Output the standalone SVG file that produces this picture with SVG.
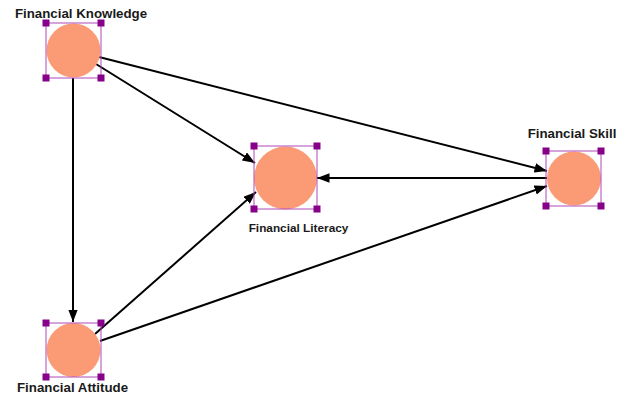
<svg xmlns="http://www.w3.org/2000/svg" width="625" height="398" viewBox="0 0 625 398">
<style>
.bg{fill:#ffffff}
.c{fill:#fb9b76}
.box{fill:none;stroke:#b048b8;stroke-width:1}
.h{fill:#86008a}
.lbl{font-family:"Liberation Sans",Arial,sans-serif;font-weight:bold;font-size:13.3px;fill:#1a1a1a}
.e{stroke:#000;stroke-width:2;fill:none;marker-end:url(#ah)}
</style>
<defs>
<marker id="ah" markerUnits="userSpaceOnUse" markerWidth="13" markerHeight="10" refX="12.5" refY="4.75" orient="auto">
<path d="M0,0 L12.5,4.75 L0,9.5 z" fill="#000"/>
</marker>
<g id="hd">
<rect class="h" x="-3.5" y="-3.5" width="7" height="7"/>
</g>
</defs>
<rect class="bg" x="0" y="0" width="625" height="398"/>
<g id="connectors">
<line class="e" x1="73" y1="78" x2="73" y2="322"/>
<line class="e" x1="96" y1="64" x2="255" y2="163"/>
<line class="e" x1="99" y1="57" x2="547" y2="171"/>
<line class="e" x1="547" y1="178" x2="317" y2="178"/>
<line class="e" x1="95" y1="334" x2="256" y2="192"/>
<line class="e" x1="100" y1="341" x2="547" y2="186"/>
</g>
<g id="knowledge">
<circle class="c" cx="73.5" cy="50.5" r="27"/>
<rect class="box" x="46" y="23" width="55" height="55"/>
<use href="#hd" x="46" y="23"/><use href="#hd" x="101" y="23"/><use href="#hd" x="46" y="78"/><use href="#hd" x="101" y="78"/>
<text class="lbl" x="81" y="18" text-anchor="middle">Financial Knowledge</text>
</g>
<g id="literacy">
<circle class="c" cx="285.5" cy="178" r="31.5"/>
<rect class="box" x="254" y="146" width="63" height="63"/>
<use href="#hd" x="254" y="146"/><use href="#hd" x="317" y="146"/><use href="#hd" x="254" y="209"/><use href="#hd" x="317" y="209"/>
<text class="lbl" x="298.5" y="232" text-anchor="middle" style="font-size:11.8px">Financial Literacy</text>
</g>
<g id="skill">
<circle class="c" cx="574" cy="178.5" r="27"/>
<rect class="box" x="546" y="151" width="55" height="55"/>
<use href="#hd" x="546" y="151"/><use href="#hd" x="601" y="151"/><use href="#hd" x="546" y="206"/><use href="#hd" x="601" y="206"/>
<text class="lbl" x="572" y="138" text-anchor="middle">Financial Skill</text>
</g>
<g id="attitude">
<circle class="c" cx="73.5" cy="350" r="27"/>
<rect class="box" x="46" y="323" width="55" height="54"/>
<use href="#hd" x="46" y="323"/><use href="#hd" x="101" y="323"/><use href="#hd" x="46" y="377"/><use href="#hd" x="101" y="377"/>
<text class="lbl" x="72.5" y="392" text-anchor="middle">Financial Attitude</text>
</g>
</svg>
